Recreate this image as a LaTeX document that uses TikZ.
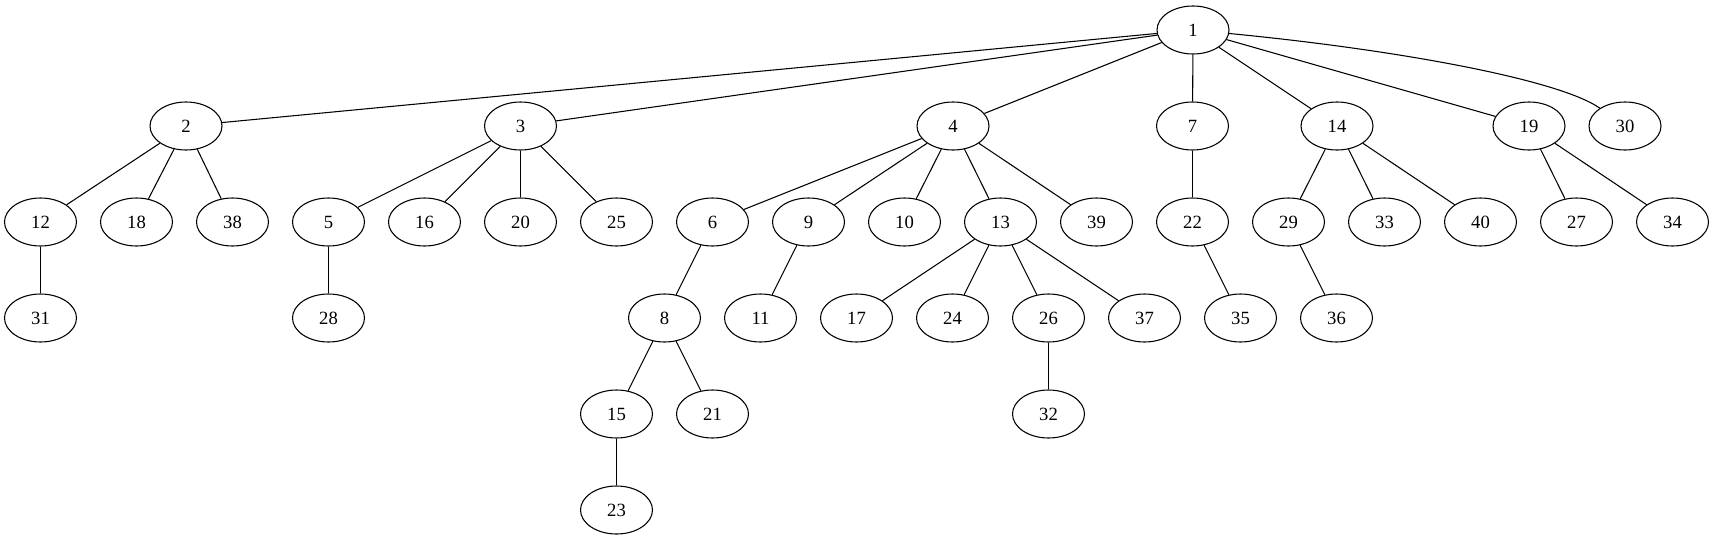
\documentclass[tikz,border=0pt]{standalone}
\usepackage{fontspec}
\setmainfont{Liberation Serif}
\usetikzlibrary{shapes.geometric}
\begin{document}
\begin{tikzpicture}[x=0.75pt,y=-0.75pt,
  vtx/.style={draw,ellipse,minimum width=54pt,minimum height=36pt,inner sep=0pt,line width=0.8pt,font=\fontsize{14pt}{16pt}\selectfont},
  edge/.style={line width=0.8pt}]
\useasboundingbox (0,0) rectangle (1715,539);
% row 1
\node[vtx] (n1) at (1193,30) {1};
% row 2
\node[vtx] (n2) at (186,126) {2};
\node[vtx] (n3) at (520.5,126) {3};
\node[vtx] (n4) at (953,126) {4};
\node[vtx] (n7) at (1192.5,126) {7};
\node[vtx] (n14) at (1337,126) {14};
\node[vtx] (n19) at (1529,126) {19};
\node[vtx] (n30) at (1625,126) {30};
% row 3
\node[vtx] (n12) at (40.5,222) {12};
\node[vtx] (n18) at (136.5,222) {18};
\node[vtx] (n38) at (232.5,222) {38};
\node[vtx] (n5) at (328.5,222) {5};
\node[vtx] (n16) at (424.5,222) {16};
\node[vtx] (n20) at (520.5,222) {20};
\node[vtx] (n25) at (616.5,222) {25};
\node[vtx] (n6) at (712.5,222) {6};
\node[vtx] (n9) at (808.5,222) {9};
\node[vtx] (n10) at (904.5,222) {10};
\node[vtx] (n13) at (1000.5,222) {13};
\node[vtx] (n39) at (1096.5,222) {39};
\node[vtx] (n22) at (1192.5,222) {22};
\node[vtx] (n29) at (1288.5,222) {29};
\node[vtx] (n33) at (1384.5,222) {33};
\node[vtx] (n40) at (1480.5,222) {40};
\node[vtx] (n27) at (1576.5,222) {27};
\node[vtx] (n34) at (1672.5,222) {34};
% row 4
\node[vtx] (n31) at (40.5,318) {31};
\node[vtx] (n28) at (328.5,318) {28};
\node[vtx] (n8) at (664.5,318) {8};
\node[vtx] (n11) at (760.5,318) {11};
\node[vtx] (n17) at (856.5,318) {17};
\node[vtx] (n24) at (952.5,318) {24};
\node[vtx] (n26) at (1048.5,318) {26};
\node[vtx] (n37) at (1144.5,318) {37};
\node[vtx] (n35) at (1240.5,318) {35};
\node[vtx] (n36) at (1336.5,318) {36};
% row 5
\node[vtx] (n15) at (616.5,414) {15};
\node[vtx] (n21) at (712.5,414) {21};
\node[vtx] (n32) at (1048.5,414) {32};
% row 6
\node[vtx] (n23) at (616.5,510) {23};
% edges
\foreach \a/\b in {1/2,1/3,1/4,1/7,1/14,1/19,
  2/12,2/18,2/38,3/5,3/16,3/20,3/25,
  4/6,4/9,4/10,4/13,4/39,7/22,14/29,14/33,14/40,19/27,19/34,
  12/31,5/28,6/8,9/11,13/17,13/24,13/26,13/37,22/35,29/36,
  8/15,8/21,26/32,15/23}
  \draw[edge] (n\a) -- (n\b);
\draw[edge] (n1) .. controls (1400,50) and (1560,80) .. (n30);
\end{tikzpicture}
\end{document}
